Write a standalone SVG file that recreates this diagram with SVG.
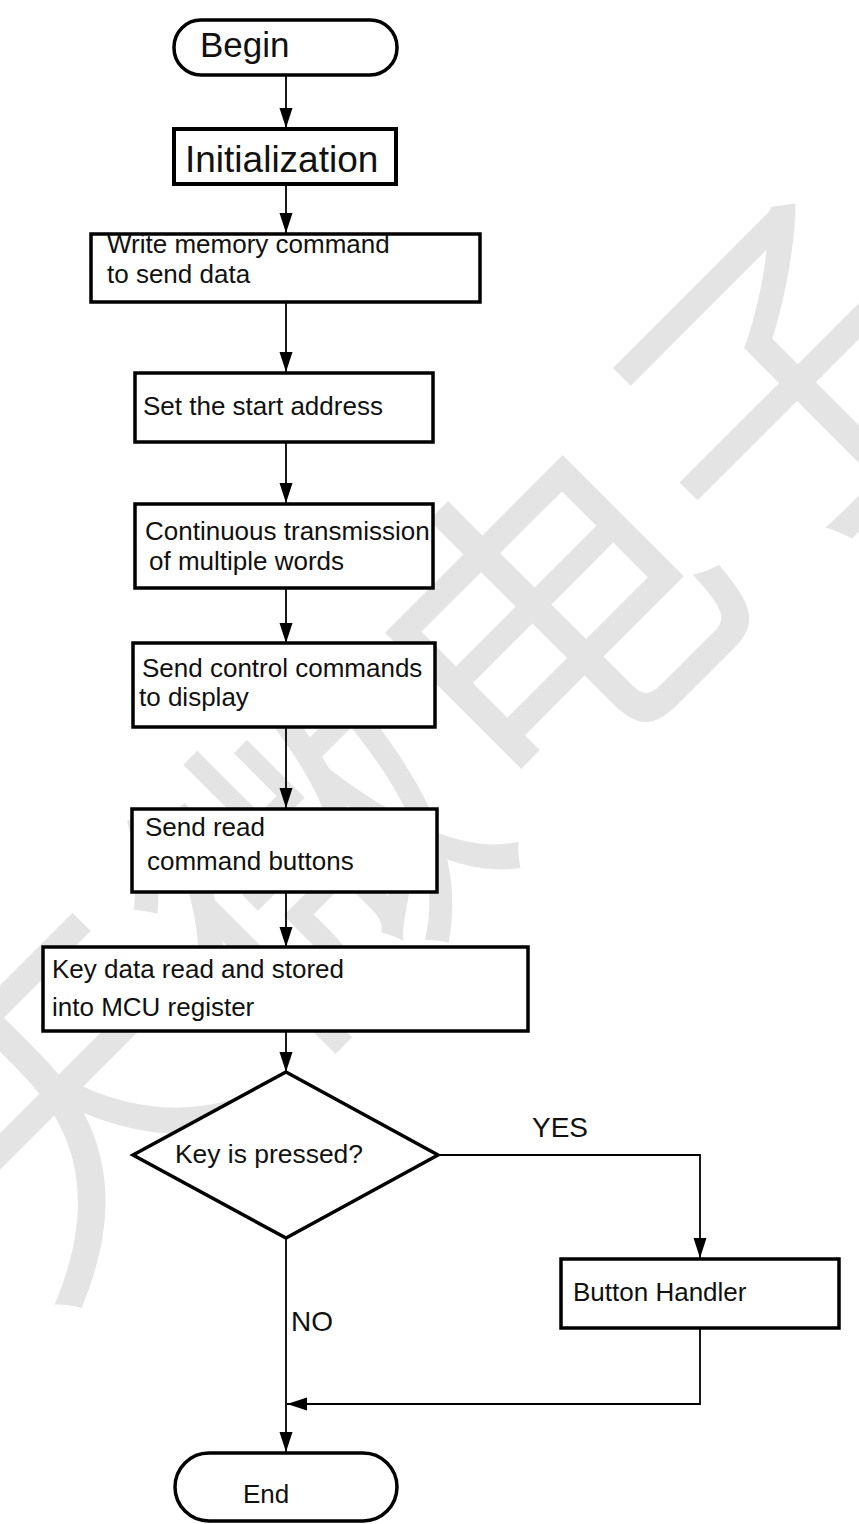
<svg xmlns="http://www.w3.org/2000/svg" width="859" height="1524" viewBox="0 0 859 1524">
<style>
.box{fill:#fff;stroke:#000;stroke-width:3.5}
.t{font-family:"Liberation Sans",Arial,sans-serif;font-size:26px;fill:#111}
.big{font-size:35px}
.huge{font-size:37px}
.lbl{font-size:28px}
.c{fill:none;stroke:#000;stroke-width:1.8}
.wm{font-family:"Noto Sans CJK SC",sans-serif;font-size:340px;font-weight:normal;fill:#e4e4e4}
</style>
<defs>
<marker id="ah" viewBox="0 0 20 14" refX="20" refY="7" markerWidth="20" markerHeight="14" markerUnits="userSpaceOnUse" orient="auto-start-reverse">
<path d="M0,0.5 L20,7 L0,13.5 Z" fill="#000"/>
</marker>
<clipPath id="clipCont"><rect x="135" y="503" width="296" height="85"/></clipPath>
</defs>
<rect width="859" height="1524" fill="#fff"/>
<g id="watermark">
<text class="wm" x="41" y="1311" transform="rotate(-45 41 1311)">天微电子</text>
</g>
<g id="connectors">
<line class="c" x1="286" y1="75" x2="286" y2="128" marker-end="url(#ah)"/>
<line class="c" x1="286" y1="185" x2="286" y2="233" marker-end="url(#ah)"/>
<line class="c" x1="286" y1="302" x2="286" y2="372" marker-end="url(#ah)"/>
<line class="c" x1="286" y1="442" x2="286" y2="503" marker-end="url(#ah)"/>
<line class="c" x1="286" y1="588" x2="286" y2="643" marker-end="url(#ah)"/>
<line class="c" x1="286" y1="727" x2="286" y2="808" marker-end="url(#ah)"/>
<line class="c" x1="286" y1="892" x2="286" y2="947" marker-end="url(#ah)"/>
<line class="c" x1="286" y1="1032" x2="286" y2="1072" marker-end="url(#ah)"/>
<polyline class="c" points="438,1155 700,1155 700,1258" marker-end="url(#ah)"/>
<line class="c" x1="286" y1="1238" x2="286" y2="1452" marker-end="url(#ah)"/>
<polyline class="c" points="700,1328 700,1404 287,1404" marker-end="url(#ah)"/>
<text class="t lbl" x="532" y="1137">YES</text>
<text class="t lbl" x="291" y="1331">NO</text>
</g>
<g id="begin">
<rect class="box" x="174" y="20" width="223" height="55" rx="27" ry="27"/>
<text class="t big" x="200" y="57">Begin</text>
</g>
<g id="init">
<rect class="box" x="174" y="129" width="222" height="55" style="stroke-width:4"/>
<text class="t huge" x="185" y="172">Initialization</text>
</g>
<g id="write">
<rect class="box" x="91" y="234" width="389" height="68"/>
<text class="t" x="107" y="253">Write memory command</text>
<text class="t" x="107" y="283">to send data</text>
</g>
<g id="setaddr">
<rect class="box" x="135" y="373" width="298" height="69"/>
<text class="t" x="143" y="415">Set the start address</text>
</g>
<g id="cont">
<rect class="box" x="135" y="504" width="298" height="84"/>
<text class="t" x="145" y="540" clip-path="url(#clipCont)">Continuous transmission</text>
<text class="t" x="149" y="570">of multiple words</text>
</g>
<g id="control">
<rect class="box" x="133" y="643" width="302" height="84"/>
<text class="t" x="142" y="677">Send control commands</text>
<text class="t" x="139" y="706">to display</text>
</g>
<g id="sendread">
<rect class="box" x="132" y="809" width="305" height="83"/>
<text class="t" x="145" y="836">Send read</text>
<text class="t" x="147" y="870">command buttons</text>
</g>
<g id="keydata">
<rect class="box" x="43" y="947" width="485" height="84"/>
<text class="t" x="52" y="978">Key data read and stored</text>
<text class="t" x="52" y="1016">into MCU register</text>
</g>
<g id="decision">
<polygon class="box" points="286,1072 438,1155 286,1238 133,1155"/>
<text class="t" x="175" y="1163" textLength="188" lengthAdjust="spacingAndGlyphs">Key is pressed?</text>
</g>
<g id="handler">
<rect class="box" x="561" y="1259" width="278" height="69"/>
<text class="t" x="573" y="1301">Button Handler</text>
</g>
<g id="end">
<rect class="box" x="175" y="1453" width="222" height="68" rx="34" ry="34"/>
<text class="t" x="243" y="1503">End</text>
</g>
</svg>
